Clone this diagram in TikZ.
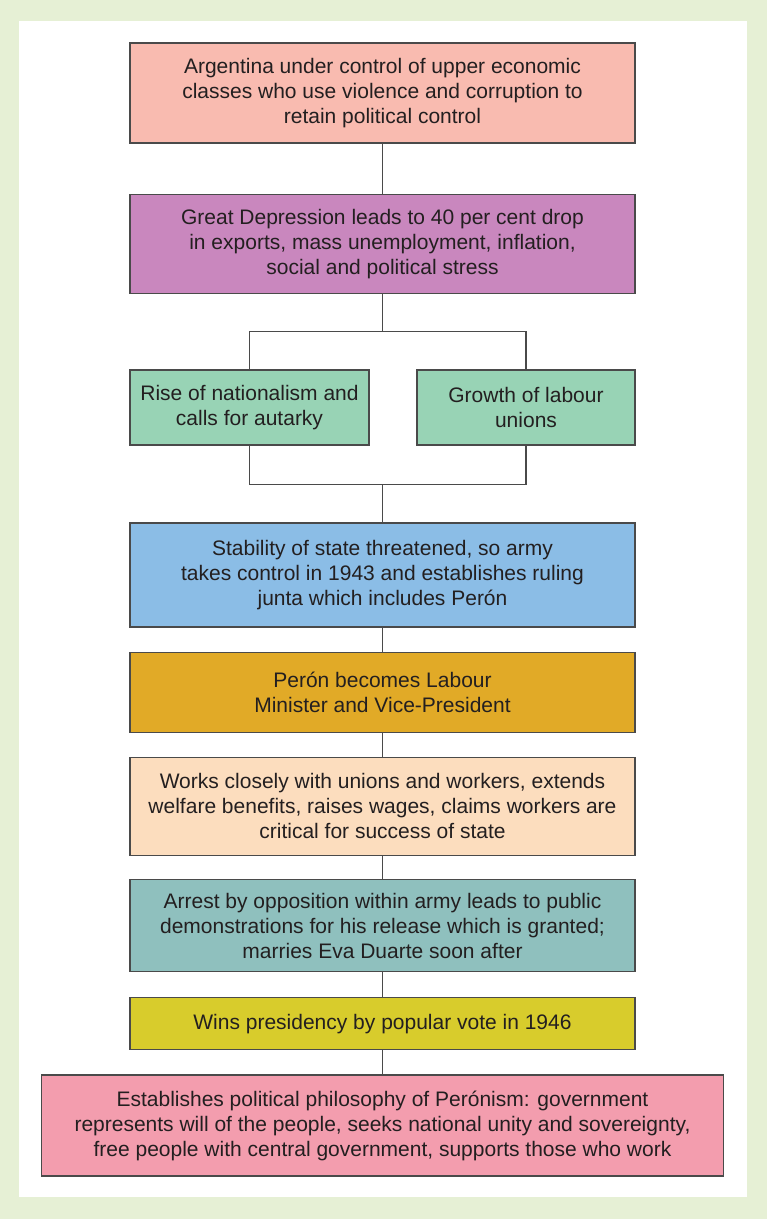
\documentclass[tikz,border=0pt]{standalone}
\usepackage{fontspec}
\setmainfont{Liberation Sans}
\usetikzlibrary{positioning}

\definecolor{pageGreen}{HTML}{E6F0D5}
\definecolor{lineGrey}{HTML}{4A4A4A}
\definecolor{textGrey}{HTML}{231F20}
\definecolor{controlPink}{HTML}{F9BBB0}
\definecolor{depressionPurple}{HTML}{C987BE}
\definecolor{causeGreen}{HTML}{98D3B5}
\definecolor{stabilityBlue}{HTML}{8BBDE6}
\definecolor{peronGold}{HTML}{E1AA27}
\definecolor{worksPeach}{HTML}{FCDDBE}
\definecolor{arrestTeal}{HTML}{8FC0BE}
\definecolor{winsYellow}{HTML}{D8CC2C}
\definecolor{philosophyPink}{HTML}{F39DAE}

\begin{document}
\begin{tikzpicture}[x=1pt, y=-1pt, node distance=24pt,
    box/.style={draw=lineGrey, line width=1.2pt, align=center, text=textGrey,
        font=\fontsize{21}{25}\selectfont, inner sep=2pt, minimum width=505pt},
    link/.style={draw=lineGrey, line width=1.3pt}]
    % page
    \fill[pageGreen] (0,0) rectangle (767,1219);
    \fill[white] (19,21) rectangle (747,1197);

    \node[box, fill=controlPink, minimum height=100pt] (control) at (382.5,93)
        {Argentina under control of upper economic\\classes who use violence and corruption to\\retain political control};
    \node[box, fill=depressionPurple, minimum height=99pt, below=50pt of control] (depression)
        {Great Depression leads to 40 per cent drop\\in exports, mass unemployment, inflation,\\social and political stress};
    \node[box, fill=causeGreen, minimum width=239pt, minimum height=75pt] (nationalism) at (249.5,407.5)
        {Rise of nationalism and\\calls for autarky};
    \node[box, fill=causeGreen, minimum width=218pt, minimum height=75pt] (unions) at (526,407.5)
        {Growth of labour\\unions};
    \node[box, fill=stabilityBlue, minimum height=104pt] (stability) at (382.5,575)
        {Stability of state threatened, so army\\takes control in 1943 and establishes ruling\\junta which includes Perón};
    \node[box, fill=peronGold, minimum height=80pt, below=of stability] (minister)
        {Perón becomes Labour\\Minister and Vice-President};
    \node[box, fill=worksPeach, minimum height=98pt, below=of minister] (welfare)
        {Works closely with unions and workers, extends\\welfare benefits, raises wages, claims workers are\\critical for success of state};
    \node[box, fill=arrestTeal, minimum height=92pt, below=23pt of welfare] (arrest)
        {Arrest by opposition within army leads to public\\demonstrations for his release which is granted;\\marries Eva Duarte soon after};
    \node[box, fill=winsYellow, minimum height=52pt, below=25pt of arrest] (election)
        {Wins presidency by popular vote in 1946};
    \node[box, fill=philosophyPink, minimum width=682pt, minimum height=101pt, below=of election] (peronism)
        {Establishes political philosophy of Perónism: government\\represents will of the people, seeks national unity and sovereignty,\\free people with central government, supports those who work};

    \coordinate (split) at ([yshift=-38pt]depression.south);
    \coordinate (merge) at ([yshift=38pt]stability.north);

    \path[link]
        (control) edge (depression)
        (depression) edge (split);
    \draw[link] (split) -| (nationalism);
    \draw[link] (split) -| (unions);
    \draw[link] (nationalism) |- (merge);
    \draw[link] (unions) |- (merge);
    \path[link]
        (merge) edge (stability)
        (stability) edge (minister)
        (minister) edge (welfare)
        (welfare) edge (arrest)
        (arrest) edge (election)
        (election) edge (peronism);
\end{tikzpicture}
\end{document}
